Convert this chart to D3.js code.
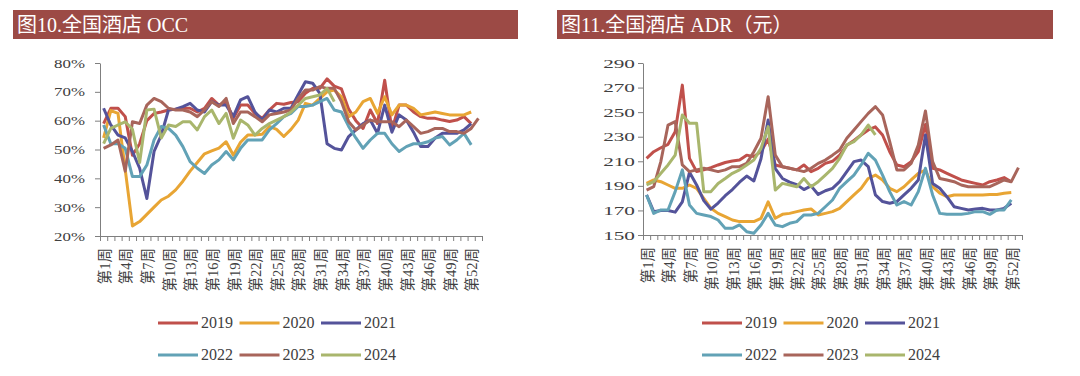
<!DOCTYPE html>
<html>
<head>
<meta charset="utf-8">
<script src="https://cdn.jsdelivr.net/npm/d3@7"></script>
<style>
  body { margin: 0; background: #fff; }
  #graphic svg { display: block; }
  .serif { font-family: 'Liberation Serif', 'Noto Sans CJK SC', serif; }
</style>
</head>
<body>
<div id="graphic"></div>
<script>
// Global vars
var WIDTH = 1080;
var HEIGHT = 376;

var years = ['2019', '2020', '2021', '2022', '2023', '2024'];
var colors = ['#c0504b', '#e8a534', '#54539a', '#62a2b6', '#a8655b', '#a9b66d'];

var weeks = [
  '第1周', '第2周', '第3周', '第4周', '第5周', '第6周', '第7周', '第8周', '第9周', '第10周',
  '第11周', '第12周', '第13周', '第14周', '第15周', '第16周', '第17周', '第18周', '第19周', '第20周',
  '第21周', '第22周', '第23周', '第24周', '第25周', '第26周', '第27周', '第28周', '第29周', '第30周',
  '第31周', '第32周', '第33周', '第34周', '第35周', '第36周', '第37周', '第38周', '第39周', '第40周',
  '第41周', '第42周', '第43周', '第44周', '第45周', '第46周', '第47周', '第48周', '第49周', '第50周',
  '第51周', '第52周', '第53周'
];

// OCC, %
var occTicks = [20, 30, 40, 50, 60, 70, 80];
var occ2019 = [
  59, 64.3, 64.3, 61.4, 48, 52, 60, 62.5, 63, 63.7,
  64, 64.3, 64.3, 63, 64.3, 67.7, 65.4, 66.6, 60.8, 65.4,
  65.4, 62.5, 60.8, 63.7, 66, 65.7, 66.3, 66.6, 69.5, 71.2,
  71.2, 74.5, 72, 71, 64, 60, 57.3, 63.7, 59, 74,
  56.8, 65.4, 65.4, 63, 61.4, 60.8, 60.8, 60.2, 59.7, 60.2,
  61.4, 59
];
var occ2020 = [
  54, 63.5, 62.5, 43, 23.5, 25, 27.5, 30, 32.5, 33.8,
  36, 39, 42.5, 45.5, 48.5, 49.5, 50.5, 52.7, 48, 52.5,
  55, 55, 55.3, 58, 57, 54.5, 57, 60.2, 66, 65.4,
  67.7, 70, 70.6, 68.3, 61.4, 63, 66.6, 67.7, 62.5, 68.3,
  62, 65.4, 65.4, 64.3, 62, 62.5, 63, 62.5, 62, 62,
  62, 63
];
var occ2021 = [
  64.3, 58.5, 55, 54, 49.3, 43.5, 33, 49.3, 55, 63.7,
  64, 64.9, 66, 63.7, 63, 66.6, 65.4, 65.4, 61.4, 67.2,
  68.3, 63, 60.2, 63.7, 63, 64.3, 64.3, 69, 73.5, 73,
  69.5, 52, 50.4, 49.8, 54.5, 56.8, 59, 60.2, 55.6, 65.4,
  56, 62, 60.2, 56, 51, 51, 54, 55.6, 55.6, 55.6,
  56.8, 59
];
var occ2022 = [
  58.5, 52, 52, 50.4, 40.6, 40.6, 44.6, 53.3, 58, 57.3,
  55, 51, 45.8, 43.5, 41.7, 44.6, 46.4, 49.3, 46.4, 50.4,
  53.3, 53.3, 53.3, 56.8, 59, 61.4, 62.5, 64.9, 64.9, 65.4,
  66.6, 67.7, 63.7, 63, 58, 54, 50.4, 53.3, 55.6, 55.6,
  52, 49.3, 51, 52, 52, 52.7, 54, 54.5, 51.6, 53.3,
  55.6, 51.6
];
var occ2023 = [
  50.4, 51.6, 53.3, 42.5, 59.6, 59, 65.4, 67.7, 66.6, 64.3,
  63.7, 63.7, 63, 61.4, 63.7, 66.6, 64.9, 67.7, 59, 63,
  63, 61.4, 59.6, 62, 62.5, 63, 63.7, 67.7, 70.6, 70.6,
  71.8, 71.2, 71.2, 66.6, 59.6, 56.8, 58.5, 60.2, 59.6, 59.6,
  59.6, 57.9, 60.2, 57.9, 55.6, 56.2, 57.3, 57.3, 56.2, 56.2,
  55.6, 57.3, 60.8
];
var occ2024 = [
  52, 57.3, 58.5, 59.6, 57, 45.5, 63.7, 64, 54, 58.5,
  58, 59.6, 59.6, 56.8, 61.4, 63.7, 59, 62.5, 53.9, 60.2,
  58.5, 55, 57.3, 59, 60.2, 61.4, 63, 65.4, 67.7, 68.3,
  68.9, 71.2, 66.6
];

// ADR, yuan
var adrTicks = [150, 170, 190, 210, 230, 250, 270, 290];
var adr2019 = [
  212.4, 217.8, 221, 223.8, 234, 272, 212.4, 201.6, 203, 204.8,
  207, 209, 210.2, 211, 215, 213.8, 218, 228, 207, 205.6,
  204.3, 203, 207, 201.6, 204.3, 208.3, 210, 215, 223, 227,
  231.4, 235.5, 238, 231.4, 217.8, 207, 205.6, 209.7, 217.8, 240,
  204.3, 203, 200.2, 197.5, 194.8, 193.4, 192, 190.7, 193.4, 194.8,
  196.7, 193.4
];
var adr2020 = [
  192, 194.8, 193.4, 190.7, 188, 188, 190.7, 188, 179.9, 171.7,
  167.6, 165, 162.2, 160.9, 160.9, 160.9, 163.6, 177, 163.6, 166.8,
  167.6, 169, 170.4, 171.2, 166.3, 167.6, 169, 171.7, 177.2, 182.6,
  188, 196, 198.8, 194.8, 188, 185.3, 189.3, 194.8, 200.2, 202.9,
  189.3, 184, 181.2, 182.6, 182.6, 182.6, 182.6, 182.6, 183, 183,
  184, 184.5
];
var adr2021 = [
  182.6, 169, 170, 170, 168.6, 177, 201, 190.7, 178, 171,
  176, 182, 187, 193, 198, 194, 212, 243.6, 204, 196,
  193, 191, 187, 190, 183, 186, 188, 193.4, 201.6, 209.7,
  211, 205.6, 182.6, 177.2, 175.8, 177.2, 182.6, 188, 194.8, 231.4,
  192, 188, 181.2, 173, 171.7, 170.4, 171.2, 171.7, 170.4, 170.4,
  171.7, 175.8
];
var adr2022 = [
  182.6, 167.6, 170.4, 170.4, 185.3, 203, 174.4, 167.6, 166.3, 165,
  162.2, 155.4, 155.4, 158.2, 152.7, 151.4, 158.2, 167.6, 158.2, 156.8,
  159.5, 160.9, 166.3, 166.3, 167.6, 173, 178.5, 188, 193.4, 198.8,
  207, 216.5, 211, 198.8, 185.3, 174.4, 177.2, 174.4, 185.3, 204.3,
  182.6, 167.6, 166.8, 166.8, 166.8, 167.6, 169, 169, 166.8, 170.4,
  170.4, 178.5
];
var adr2023 = [
  186.6, 189.3, 210, 239.5, 242.3, 207, 201.6, 203, 204.3, 203,
  201.6, 203, 205.6, 205.6, 208.3, 217.8, 228.7, 262.6, 215, 205.6,
  204.3, 203, 201.6, 204.3, 208.3, 211, 215, 219.2, 228.7, 235.5,
  242.3, 249, 254.5, 247.7, 226, 203, 203, 208.3, 223.3, 251,
  209.7, 196, 194.8, 193.4, 190.7, 189.3, 189.3, 189.3, 189.3, 192,
  194.8, 193.4, 204.8
];
var adr2024 = [
  190.7, 193.4, 200.2, 207, 215, 247.7, 240.9, 240.9, 185.3, 185.3,
  192, 196, 200.2, 203, 207, 211, 220.5, 238.2, 186.6, 192,
  190.7, 189.3, 196, 189.3, 193.4, 198.8, 204.3, 212.4, 223.3, 226,
  231.4, 239.5, 231.4
];

/*
 * Render the page.
 */
var render = function () {
  var containerElement = d3.select('#graphic');
  containerElement.html('');

  var svg = containerElement
    .append('svg')
    .attr('width', WIDTH)
    .attr('height', HEIGHT)
    .attr('class', 'serif');

  renderChart(svg, {
    title: '图10.全国酒店 OCC',
    bar: [13, 10, 505, 29],
    plot: { left: 100, right: 482, top: 63, bottom: 236 },
    ticks: occTicks,
    format: function (d) { return d + '%'; },
    labelGap: 15,
    labelStretch: 1.35,
    series: [occ2019, occ2020, occ2021, occ2022, occ2023, occ2024],
    legendX: 158
  });

  renderChart(svg, {
    title: '图11.全国酒店 ADR（元）',
    bar: [557, 10, 496, 29],
    plot: { left: 643, right: 1022, top: 63, bottom: 235 },
    ticks: adrTicks,
    format: function (d) { return d; },
    labelGap: 8,
    labelStretch: 1.7,
    series: [adr2019, adr2020, adr2021, adr2022, adr2023, adr2024],
    legendX: 702
  });
};

/*
 * Render one panel: title bar, axes, lines, legend.
 */
var renderChart = function (svg, config) {
  var p = config['plot'];
  var g = svg.append('g');

  // Title bar
  g.append('rect')
    .attr('x', config['bar'][0])
    .attr('y', config['bar'][1])
    .attr('width', config['bar'][2])
    .attr('height', config['bar'][3])
    .attr('fill', '#9c4a45');

  g.append('text')
    .attr('x', config['bar'][0] + 4)
    .attr('y', config['bar'][1] + 22)
    .attr('fill', '#fff')
    .style('font-size', '20px')
    .text(config['title']);

  var xScale = d3.scaleBand()
    .domain(weeks)
    .range([p.left, p.right]);

  var yScale = d3.scaleLinear()
    .domain([config['ticks'][0], config['ticks'][config['ticks'].length - 1]])
    .range([p.bottom, p.top]);

  // x axis: ticks at the band edges
  var edgeScale = d3.scaleLinear()
    .domain([0, weeks.length])
    .range([p.left, p.right]);

  var xAxis = g.append('g')
    .attr('transform', 'translate(0,' + p.bottom + ')')
    .call(d3.axisBottom(edgeScale)
      .tickValues(d3.range(weeks.length + 1))
      .tickSize(5)
      .tickSizeOuter(0)
      .tickFormat(''));

  xAxis.selectAll('path, line').attr('stroke', '#7f7f7f');

  g.append('g')
    .selectAll('text')
    .data(weeks.filter(function (d, i) { return i % 3 === 0; }))
    .enter().append('text')
    .attr('transform', function (d) {
      return 'translate(' + (xScale(d) + xScale.bandwidth() / 2 + 1) + ',' + (p.bottom + 12) + ') rotate(-90)';
    })
    .attr('text-anchor', 'end')
    .attr('dy', '0.36em')
    .attr('fill', '#404040')
    .style('font-size', '14.5px')
    .text(function (d) { return d; });

  // y axis
  var yAxis = g.append('g')
    .attr('transform', 'translate(' + p.left + ',0)')
    .call(d3.axisLeft(yScale)
      .tickValues(config['ticks'])
      .tickSize(5)
      .tickSizeOuter(0)
      .tickFormat(config['format']));

  yAxis.selectAll('path, line').attr('stroke', '#7f7f7f');
  yAxis.selectAll('text')
    .attr('x', -config['labelGap'] / config['labelStretch'])
    .attr('transform', 'scale(' + config['labelStretch'] + ',1)')
    .attr('fill', '#404040')
    .style('font-family', "'Liberation Serif', serif")
    .style('font-size', '12.5px');

  // Lines
  var line = d3.line()
    .x(function (d, i) { return xScale(weeks[i]) + xScale.bandwidth() / 2; })
    .y(function (d) { return yScale(d); });

  g.append('g')
    .selectAll('path')
    .data(config['series'])
    .enter().append('path')
    .attr('d', line)
    .attr('fill', 'none')
    .attr('stroke', function (d, i) { return colors[i]; })
    .attr('stroke-width', 3)
    .attr('stroke-linejoin', 'round');

  // Legend, two rows of three
  var legend = g.append('g')
    .selectAll('g')
    .data(years)
    .enter().append('g')
    .attr('transform', function (d, i) {
      return 'translate(' + (config['legendX'] + (i % 3) * 81.5) + ',' + (i < 3 ? 323 : 355) + ')';
    });

  legend.append('line')
    .attr('x1', 0)
    .attr('x2', 40)
    .attr('stroke', function (d, i) { return colors[i]; })
    .attr('stroke-width', 3);

  legend.append('text')
    .attr('x', 43)
    .attr('dy', '0.34em')
    .attr('fill', '#404040')
    .style('font-size', '16px')
    .text(function (d) { return d; });
};

window.onload = render;
</script>
</body>
</html>
